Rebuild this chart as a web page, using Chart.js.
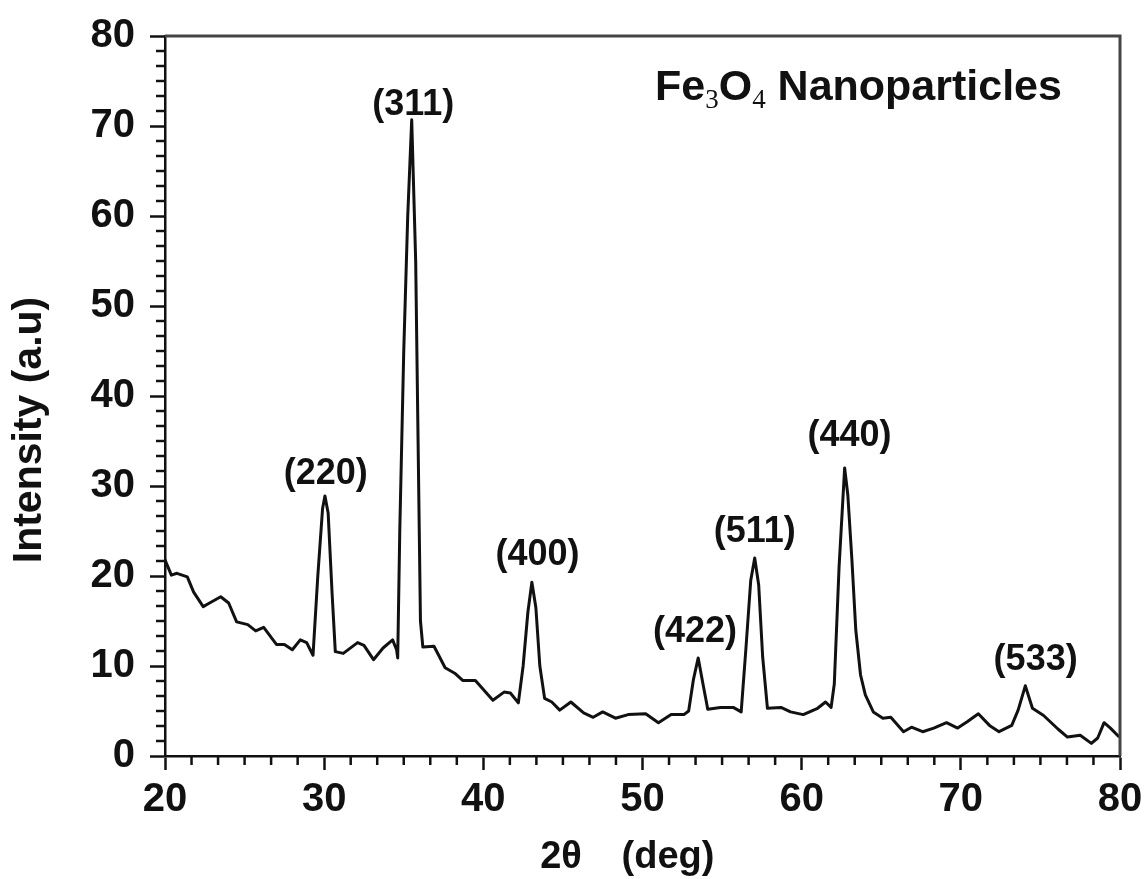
<!DOCTYPE html>
<html><head><meta charset="utf-8">
<script src="https://cdn.jsdelivr.net/npm/chart.js@4"></script>
<style>html,body{margin:0;padding:0;background:#fff}</style>
</head><body>
<canvas id="c" width="1144" height="879"></canvas>
<script>
const twoTheta = [
 20.0,20.4,20.75,21.4,21.8,22.4,22.8,23.5,24.0,24.5,25.2,25.7,26.2,27.0,27.5,28.0,28.5,28.9,29.3,
 29.6,29.9,30.05,30.25,30.5,30.7,31.2,32.1,32.5,33.1,33.7,34.3,34.55,34.62,
 34.75,35.0,35.25,35.5,35.75,35.9,36.05,36.2,36.9,37.6,38.2,38.7,39.5,40.6,41.3,41.7,42.2,
 42.5,42.8,43.05,43.3,43.55,43.85,44.3,44.8,45.5,46.3,46.9,47.5,48.3,49.1,50.2,51.0,51.8,52.6,
 52.9,53.2,53.5,53.8,54.1,54.9,55.7,56.2,56.5,56.8,57.05,57.3,57.55,57.85,58.7,59.3,60.1,61.0,61.5,61.85,
 62.05,62.35,62.7,62.9,63.15,63.4,63.7,64.0,64.5,65.1,65.6,66.4,66.9,67.6,68.3,69.1,69.8,70.4,71.1,71.8,
 72.4,73.2,73.6,74.05,74.5,75.2,76.1,76.7,77.5,78.2,78.6,79.0,79.4,79.9
];
const intensity = [
 21.8,20.1,20.3,19.9,18.2,16.6,17.0,17.7,17.0,14.9,14.6,13.9,14.3,12.4,12.4,11.8,12.9,12.6,11.2,
 20.0,27.5,28.9,27.0,18.0,11.6,11.4,12.6,12.3,10.7,12.0,12.9,11.8,10.9,
 25.0,45.0,60.0,70.7,55.0,35.0,15.0,12.1,12.2,9.8,9.2,8.4,8.4,6.2,7.1,7.0,5.9,
 10.0,16.0,19.3,16.5,10.0,6.4,6.0,5.1,6.0,4.8,4.3,4.9,4.2,4.6,4.7,3.7,4.6,4.6,
 5.0,8.5,10.9,8.0,5.2,5.4,5.4,4.9,12.0,19.5,22.0,19.0,11.0,5.3,5.4,4.9,4.6,5.3,6.0,5.4,
 8.0,21.0,32.0,29.0,22.0,14.0,9.0,6.8,4.9,4.2,4.3,2.7,3.2,2.7,3.1,3.7,3.1,3.8,4.7,3.4,
 2.7,3.4,5.1,7.8,5.3,4.5,3.0,2.1,2.3,1.4,2.0,3.7,3.1,2.2
];
const peakLabels = ['(220)','(311)','(400)','(422)','(511)','(440)','(533)'];
const peakLabelX = [30.1, 35.6, 43.4, 53.3, 57.05, 63.0, 74.7];
const peakLabelY = [31.3, 72.3, 22.3, 13.8, 24.9, 35.5, 10.7];
const xTicks = [20,30,40,50,60,70,80];
const yTicks = [0,10,20,30,40,50,60,70,80];
const xTitle = ['2θ','(deg)'];
const yTitle = 'Intensity (a.u)';

const INK = '#111';
const FONT = '"Liberation Sans", Arial, sans-serif';

const decor = {
  id: 'decor',
  afterDraw(chart) {
    const ctx = chart.ctx;
    const xs = chart.scales.x, ys = chart.scales.y;
    const a = chart.chartArea;
    ctx.save();
    ctx.strokeStyle = '#444';
    ctx.lineWidth = 3;
    ctx.beginPath();
    ctx.moveTo(a.left, a.top); ctx.lineTo(a.right, a.top); ctx.lineTo(a.right, a.bottom);
    ctx.stroke();
    ctx.strokeStyle = INK; ctx.lineWidth = 2.5;
    ctx.beginPath();
    for (let i = 0; i < xTicks.length - 1; i++) {
      for (let k = 1; k < 6; k++) {
        const v = xTicks[i] + (xTicks[i+1] - xTicks[i]) * k / 6;
        const p = xs.getPixelForValue(v);
        ctx.moveTo(p, a.bottom); ctx.lineTo(p, a.bottom + 9);
      }
    }
    for (let i = 0; i < yTicks.length - 1; i++) {
      for (let k = 1; k < 6; k++) {
        const v = yTicks[i] + (yTicks[i+1] - yTicks[i]) * k / 6;
        const p = ys.getPixelForValue(v);
        ctx.moveTo(a.left, p); ctx.lineTo(a.left - 9, p);
      }
    }
    ctx.stroke();
    ctx.fillStyle = INK;
    ctx.font = 'bold 36px ' + FONT;
    ctx.textAlign = 'center'; ctx.textBaseline = 'middle';
    peakLabels.forEach((t, i) => {
      ctx.fillText(t, xs.getPixelForValue(peakLabelX[i]), ys.getPixelForValue(peakLabelY[i]));
    });
    const big = 'bold 43px ' + FONT, sub = '27px "Liberation Serif", serif';
    const parts = [['Fe', big, 0], ['3', sub, 8], ['O', big, 0], ['4', sub, 8], [' Nanoparticles', big, 0]];
    let x = 655; const yb = 100;
    ctx.textAlign = 'left'; ctx.textBaseline = 'alphabetic';
    parts.forEach(([t, f, dy]) => { ctx.font = f; ctx.fillText(t, x, yb + dy); x += ctx.measureText(t).width; });
    ctx.font = 'bold 38px ' + FONT;
    ctx.textAlign = 'center'; ctx.textBaseline = 'middle';
    ctx.fillText(xTitle[0], 561, 858);
    ctx.fillText(xTitle[1], 668, 858);
    ctx.save();
    ctx.translate(30, 430); ctx.rotate(-Math.PI / 2);
    ctx.font = 'bold 41px ' + FONT;
    ctx.fillText(yTitle, 0, 0);
    ctx.restore();
    ctx.restore();
  }
};

new Chart(document.getElementById('c'), {
  type: 'line',
  data: { datasets: [{
    data: twoTheta.map((x, i) => ({ x, y: intensity[i] })),
    borderColor: INK, borderWidth: 3, pointRadius: 0, tension: 0, fill: false,
    borderJoinStyle: 'round', borderCapStyle: 'round'
  }]},
  options: {
    responsive: false, animation: false,
    layout: { padding: { top: 36, right: 24, left: 0, bottom: 0 } },
    plugins: { legend: { display: false }, tooltip: { enabled: false } },
    scales: {
      x: {
        type: 'linear', min: 20, max: 80,
        afterBuildTicks: s => { s.ticks = xTicks.map(v => ({ value: v })); },
        afterFit: s => { s.height = 123; s.paddingLeft = 0; s.paddingRight = 0; },
        ticks: { font: { family: FONT, size: 40, weight: 'bold' }, color: INK, padding: 6, maxRotation: 0, autoSkip: false },
        grid: { drawOnChartArea: false, drawTicks: true, tickLength: 14, tickWidth: 2.5, tickColor: INK },
        border: { display: true, color: INK, width: 2.5 }
      },
      y: {
        min: 0, max: 80,
        afterBuildTicks: s => { s.ticks = yTicks.map(v => ({ value: v })); },
        afterFit: s => { s.width = 165; s.paddingTop = 0; s.paddingBottom = 0; },
        ticks: { font: { family: FONT, size: 40, weight: 'bold' }, color: INK, padding: 15, autoSkip: false },
        grid: { drawOnChartArea: false, drawTicks: true, tickLength: 15, tickWidth: 2.5, tickColor: INK },
        border: { display: true, color: INK, width: 2.5 }
      }
    }
  },
  plugins: [decor]
});
</script>
</body></html>
